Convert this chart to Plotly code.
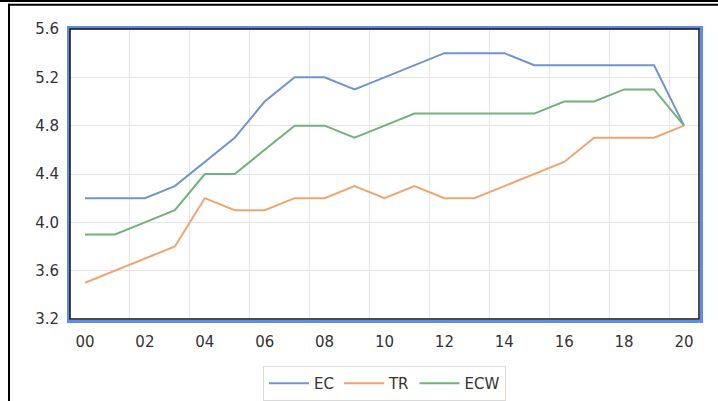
import plotly.graph_objects as go

years = ["00", "01", "02", "03", "04", "05", "06", "07", "08", "09", "10",
         "11", "12", "13", "14", "15", "16", "17", "18", "19", "20"]
ec = [4.2, 4.2, 4.2, 4.3, 4.5, 4.7, 5.0, 5.2, 5.2, 5.1, 5.2,
      5.3, 5.4, 5.4, 5.4, 5.3, 5.3, 5.3, 5.3, 5.3, 4.8]
tr = [3.5, 3.6, 3.7, 3.8, 4.2, 4.1, 4.1, 4.2, 4.2, 4.3, 4.2,
      4.3, 4.2, 4.2, 4.3, 4.4, 4.5, 4.7, 4.7, 4.7, 4.8]
ecw = [3.9, 3.9, 4.0, 4.1, 4.4, 4.4, 4.6, 4.8, 4.8, 4.7, 4.8,
       4.9, 4.9, 4.9, 4.9, 4.9, 5.0, 5.0, 5.1, 5.1, 4.8]
y_ticks = [3.2, 3.6, 4.0, 4.4, 4.8, 5.2, 5.6]

series = [("EC", ec, "#7095CD"), ("TR", tr, "#EFA56F"), ("ECW", ecw, "#70B27C")]

idx = list(range(len(years)))
fig = go.Figure()
for name, vals, col in series:
    fig.add_trace(go.Scatter(x=idx, y=vals, name=name, mode="lines",
                             line=dict(color=col, width=2)))

W, H = 718, 401
ml, mr, mt, mb = 70, 19, 29, 82
pw, ph = W - ml - mr, H - mt - mb

def px(x):
    return (x - ml) / pw

def py(y):
    return (H - mb - y) / ph

shapes = [
    # outer frame
    dict(type="line", xref="paper", yref="paper", x0=px(0), x1=px(720), y0=py(1.0), y1=py(1.0),
         line=dict(color="black", width=2)),
    dict(type="line", xref="paper", yref="paper", x0=px(8), x1=px(720), y0=py(4.8), y1=py(4.8),
         line=dict(color="black", width=2)),
    dict(type="line", xref="paper", yref="paper", x0=px(9), x1=px(9), y0=py(3.8), y1=py(402),
         line=dict(color="black", width=2)),
    # blue plot frame
    dict(type="rect", xref="paper", yref="paper", x0=px(68.5), x1=px(701.5), y0=py(321.5), y1=py(27.5),
         line=dict(color="#5B8DEE", width=3)),
    dict(type="rect", xref="paper", yref="paper", x0=0, x1=1, y0=0, y1=1,
         line=dict(color="#111111", width=1.5)),
]

grid_minor = [i - 0.5 for i in range(2, len(years), 2)]

fig.update_layout(
    width=W, height=H,
    margin=dict(l=ml, r=mr, t=mt, b=mb, autoexpand=False),
    paper_bgcolor="white", plot_bgcolor="white",
    font=dict(family="DejaVu Sans", size=15, color="#333333"),
    showlegend=True,
    legend=dict(orientation="h", x=0.5, xanchor="center", y=-(366 - (H - mb)) / ph, yanchor="top",
                bordercolor="#D9D9D9", borderwidth=1, font=dict(size=15, color="#333333"),
                itemwidth=40, tracegroupgap=0),
    xaxis=dict(range=[-0.5, len(years) - 0.5], tickvals=idx[::2], ticktext=years[::2],
               showgrid=False, zeroline=False, showline=False, automargin=False,
               ticks="outside", ticklen=9, tickcolor="rgba(0,0,0,0)",
               minor=dict(tickvals=grid_minor, showgrid=True, gridcolor="#E6E6E6", gridwidth=1)),
    yaxis=dict(range=[3.2, 5.6], tickvals=y_ticks, tickformat=".1f", automargin=False,
               showgrid=True, gridcolor="#E6E6E6", gridwidth=1, zeroline=False, showline=False,
               ticks="outside", ticklen=7, tickcolor="rgba(0,0,0,0)"),
    shapes=shapes,
)

fig.write_html("out.html", config={"displayModeBar": False},
               post_script="document.body.style.margin='0';document.body.style.overflow='hidden';")
